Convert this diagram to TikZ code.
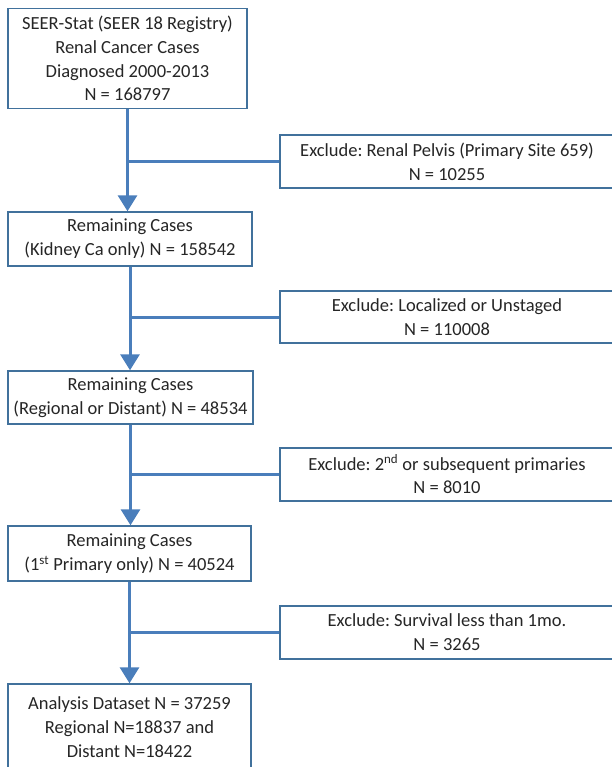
\documentclass[tikz,border=0pt]{standalone}
\usepackage{fontspec}
\setmainfont{Carlito}
\frenchspacing
\usetikzlibrary{arrows.meta}
\definecolor{boxline}{HTML}{41719C}
\definecolor{flowline}{HTML}{4A7EBB}
\begin{document}
\begin{tikzpicture}[x=1pt,y=-1pt,line join=miter,
	font=\fontsize{18.5}{23.8}\selectfont,text=black!85]
	\tikzset{casebox/.style={draw=boxline,line width=1.4pt,fill=white,align=center,inner sep=0pt},
		flow/.style={draw=flowline,line width=3pt},
		flowarrow/.style={flow,-{Triangle[width=19pt,length=16pt]}}}
	\useasboundingbox (0,0) rectangle (611,767);
	% main column
	\node[casebox,minimum width=239pt,minimum height=100pt] (seer) at (127.5,58.5)
		{SEER-Stat (SEER 18 Registry)\\Renal Cancer Cases\\Diagnosed 2000-2013\\N = 168797};
	\node[casebox,minimum width=244pt,minimum height=54pt] (kidney) at (130,239)
		{Remaining Cases\\(Kidney Ca only) N = 158542};
	\node[casebox,minimum width=245pt,minimum height=53pt] (regdist) at (130.5,397.5)
		{Remaining Cases\\(Regional or Distant) N = 48534};
	\node[casebox,minimum width=243pt,minimum height=55pt] (first) at (129.5,553.5)
		{Remaining Cases\\(1\textsuperscript{st} Primary only) N = 40524};
	\node[casebox,minimum width=243pt,minimum height=86pt] (analysis) at (129.5,727)
		{Analysis Dataset N = 37259\\Regional N=18837 and\\Distant N=18422};
	% exclusions
	\node[casebox,minimum width=334pt,minimum height=53pt] (exA) at (447,161.5)
		{Exclude: Renal Pelvis (Primary Site 659)\\N = 10255};
	\node[casebox,minimum width=334pt,minimum height=52pt] (exB) at (447,317)
		{Exclude: Localized or Unstaged\\N = 110008};
	\node[casebox,minimum width=334pt,minimum height=53pt] (exC) at (447,474.5)
		{Exclude: 2\textsuperscript{nd} or subsequent primaries\\N = 8010};
	\node[casebox,minimum width=334pt,minimum height=53pt] (exD) at (447,632.5)
		{Exclude: Survival less than 1mo.\\N = 3265};
	% connectors
	\draw[flowarrow] (seer.south) -- (seer.south |- kidney.north);
	\draw[flowarrow] (kidney.south) -- (kidney.south |- regdist.north);
	\draw[flowarrow] (regdist.south) -- (regdist.south |- first.north);
	\draw[flowarrow] (first.south) -- (first.south |- analysis.north);
	\draw[flow] (exA.west) -- (exA.west -| seer.south);
	\draw[flow] (exB.west) -- (exB.west -| kidney.south);
	\draw[flow] (exC.west) -- (exC.west -| regdist.south);
	\draw[flow] (exD.west) -- (exD.west -| first.south);
\end{tikzpicture}
\end{document}
